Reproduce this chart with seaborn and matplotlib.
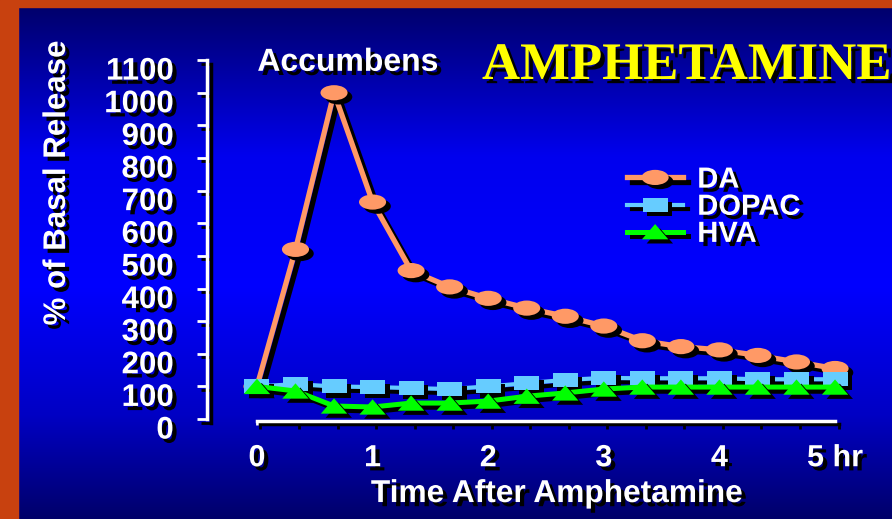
import matplotlib
matplotlib.use("Agg")
import matplotlib.pyplot as plt
import matplotlib.patheffects as pe
from matplotlib.path import Path
from matplotlib.transforms import Affine2D, ScaledTranslation
from matplotlib.colors import LinearSegmentedColormap
from matplotlib.patches import Rectangle
import numpy as np
import pandas as pd
import seaborn as sns

# ---------------- data ----------------
time_min = [0, 20, 40, 60, 80, 100, 120, 140, 160, 180, 200, 220, 240, 260, 280, 300]
da = [100, 520, 1000, 665, 455, 405, 370, 340, 315, 285, 240, 222, 212, 195, 175, 155]
dopac = [100, 107, 100, 98, 95, 92, 100, 110, 120, 126, 125, 125, 125, 122, 122, 122]
hva = [100, 86, 40, 37, 49, 49, 55, 70, 80, 92, 98, 98, 98, 98, 98, 98]

series_names = ["DA", "DOPAC", "HVA"]
series_colors = ["#FF9966", "#66CCFF", "#00FF00"]
x_tick_labels = ["0", "1", "2", "3", "4", "5 hr"]
y_ticks = [0, 100, 200, 300, 400, 500, 600, 700, 800, 900, 1000, 1100]

plt.rcParams["font.family"] = ["Liberation Sans", "DejaVu Sans"]
plt.rcParams["font.weight"] = "bold"


class DropShadow(pe.AbstractPathEffect):
    """black copy of the path, shifted; fills only what is filled"""
    def __init__(self, offset=(3, -3)):
        super().__init__(offset)

    def draw_path(self, renderer, gc, tpath, affine, rgbFace=None):
        gc0 = renderer.new_gc()
        gc0.copy_properties(gc)
        gc0.set_foreground((0, 0, 0))
        face = None if rgbFace is None else (0, 0, 0)
        renderer.draw_path(gc0, tpath, affine + self._offset_transform(renderer), face)
        gc0.restore()


def shadow(off=(3, -3)):
    return [DropShadow(off), pe.Normal()]


# wide, flat markers like on the slide
ellipse = Affine2D().scale(1, 0.56).transform_path(Path.unit_circle())
rect = Path([(-1, -0.56), (1, -0.56), (1, 0.56), (-1, 0.56), (-1, -0.56)], closed=True)
tri = Path([(-1, -0.58), (1, -0.58), (0, 0.58), (-1, -0.58)], closed=True)
markers = [ellipse, rect, tri]
sizes = [19.5, 18, 19]
widths = [3.8, 3.0, 3.6]

df = pd.DataFrame({"hours": np.array(time_min) / 60, "DA": da, "DOPAC": dopac, "HVA": hva})

fig = plt.figure(figsize=(8.92, 5.19), dpi=100)

# background gradient + orange frame
bg = fig.add_axes([0, 0, 1, 1], zorder=-10)
bg.axis("off")
cmap = LinearSegmentedColormap.from_list(
    "slide", [(0, "#000066"), (0.3, "#0000EE"), (0.55, "#0000FF"), (0.8, "#0000C4"), (1, "#00006A")])
bg.imshow(np.linspace(0, 1, 256).reshape(-1, 1), aspect="auto", cmap=cmap, extent=[0, 1, 0, 1])
bg.add_patch(Rectangle((0, 0), 18 / 892, 1, color="#C8410F", transform=bg.transAxes))
bg.add_patch(Rectangle((0, 1 - 7 / 519), 1, 7 / 519, color="#C8410F", transform=bg.transAxes))
bg.set_xlim(0, 1)
bg.set_ylim(0, 1)

ax = fig.add_axes([0.2751, 0.1888, 0.674, 0.7268])
ax.set_facecolor("none")

for name, col, mk, ms, lw in zip(series_names, series_colors, markers, sizes, widths):
    sns.lineplot(data=df, x="hours", y=name, ax=ax, color=col, lw=lw, marker=mk,
                 markersize=ms, markeredgewidth=0, errorbar=None, label=name,
                 legend=False, clip_on=False, path_effects=shadow((3.4, -3)))

ax.set_xlim(-0.1, 5.1)
ax.set_ylim(-6, 1150)

ax.set_xticks(df["hours"])
ax.set_xticklabels([x_tick_labels[m // 60] if m % 60 == 0 else "" for m in time_min])
ax.set_yticks(y_ticks)
ax.set_yticklabels([str(v) for v in y_ticks])

for side in ["top", "right"]:
    ax.spines[side].set_visible(False)
ax.spines["left"].set_position(("outward", 27.6))
ax.spines["left"].set_bounds(0, 1100)
ax.spines["bottom"].set_bounds(0, 5)
for side in ["left", "bottom"]:
    ax.spines[side].set_color("white")
    ax.spines[side].set_linewidth(2.5)
    ax.spines[side].set_path_effects(shadow((2.5, -2.5)))

ax.tick_params(axis="y", direction="out", length=7, width=2, color="white",
               labelcolor="white", labelsize=22.5, pad=17)
ax.tick_params(axis="x", direction="out", length=3, width=2, color="white",
               labelcolor="white", labelsize=22, pad=13)
for t in ax.xaxis.get_ticklines() + ax.yaxis.get_ticklines():
    t.set_path_effects(shadow((2.5, -2.5)))
for lab in ax.get_xticklabels() + ax.get_yticklabels():
    lab.set_path_effects(shadow())
# the slide's y numbers sit a little below their ticks
drop = ScaledTranslation(0, -8 / 100, fig.dpi_scale_trans)
for lab in ax.get_yticklabels():
    lab.set_transform(lab.get_transform() + drop)

ax.set_xlabel("Time After Amphetamine", fontsize=22.8, fontweight="bold", color="white",
              path_effects=shadow())
ax.xaxis.set_label_coords(0.518, -0.1936)
ax.xaxis.label.set_verticalalignment("center")
ax.set_ylabel("% of Basal Release", fontsize=22.5, fontweight="bold", color="white",
              path_effects=shadow())
ax.yaxis.set_label_coords(-0.3134, 0.631)
ax.yaxis.label.set_verticalalignment("center")

ax.set_title("Accumbens", x=0.1707, y=0.9496, va="center", pad=0, fontsize=23,
             fontweight="bold", color="white", path_effects=shadow())

fig.text(482 / 892, 1 - 79 / 519, "AMPHETAMINE", family=["Liberation Serif", "DejaVu Serif"],
         weight="bold", fontsize=38, color="#FFFF00", ha="left", va="baseline",
         path_effects=shadow((3, -3)))

leg = ax.legend(loc="upper left", bbox_to_anchor=(0.6347, 0.677), frameon=False,
                fontsize=21, labelcolor="white", handlelength=1.93, handletextpad=0.48,
                labelspacing=-0.03, borderpad=0, borderaxespad=0, numpoints=1)
for t in leg.get_texts():
    t.set_path_effects(shadow())

fig.savefig("out.png", dpi=100)
